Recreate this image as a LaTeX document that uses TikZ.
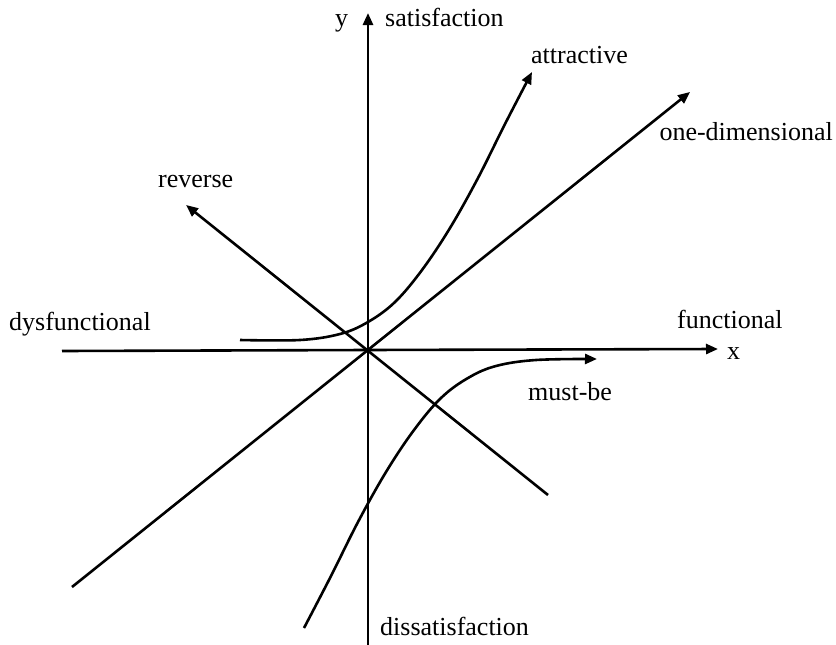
\documentclass[tikz,border=0pt]{standalone}
\usepackage{fontspec}
\setmainfont{Liberation Serif}
\usetikzlibrary{arrows.meta}
\begin{document}
\begin{tikzpicture}[x=1pt,y=-1pt,
    line/.style={line width=2.6pt},
    arr/.style={line,-{Triangle[length=12pt,width=10pt]}},
    lbl/.style={font=\fontsize{26}{30}\selectfont,inner sep=0pt}]
  \useasboundingbox (0,0) rectangle (836,645);
  % axes
  \coordinate (O) at (368,350);
  \coordinate (xl) at (62,351);
  \coordinate (xr) at (718,349);
  \coordinate (yb) at (368,648);
  \coordinate (yt) at (368,13);
  \draw[line] (xl) -- (O);
  \draw[arr] (O) -- (xr);
  \draw[line] (yb) -- (O);
  \draw[arr] (O) -- (yt);
  % straight categories
  \coordinate (odlo) at (72,587);
  \coordinate (odhi) at (690,92);
  \coordinate (rvhi) at (186,205);
  \coordinate (rvlo) at (548,495);
  \draw[arr] (odlo) -- (odhi);
  \draw[arr] (rvlo) -- (rvhi);
  % curved categories
  \draw[arr] plot[smooth,tension=0.6] coordinates {(240,340) (300,340) (340,334)
    (368,322) (395,302) (422,270) (450,228) (478,178) (505,124) (532,72)};
  \draw[arr] plot[smooth,tension=0.6] coordinates {(304,628) (331,576) (358,522)
    (386,472) (414,430) (441,398) (468,378) (496,366) (536,360) (597,359)};
  % labels
  \node[lbl,anchor=base west] (ylab) at (335,27) {y};
  \node[lbl,anchor=base west] (sat) at (385,27) {satisfaction};
  \node[lbl,anchor=base west] (dsat) at (380,635) {dissatisfaction};
  \node[lbl,anchor=base west] (xlab) at (727,359) {x};
  \node[lbl,anchor=base west] (fun) at (677,328) {functional};
  \node[lbl,anchor=base west] (dys) at (9,330) {dysfunctional};
  \node[lbl,anchor=base west] (att) at (531,63) {attractive};
  \node[lbl,anchor=base east] (one) at (833,140) {one-dimensional};
  \node[lbl,anchor=base west] (rev) at (158,187) {reverse};
  \node[lbl,anchor=base west] (must) at (528,400) {must-be};
\end{tikzpicture}
\end{document}
